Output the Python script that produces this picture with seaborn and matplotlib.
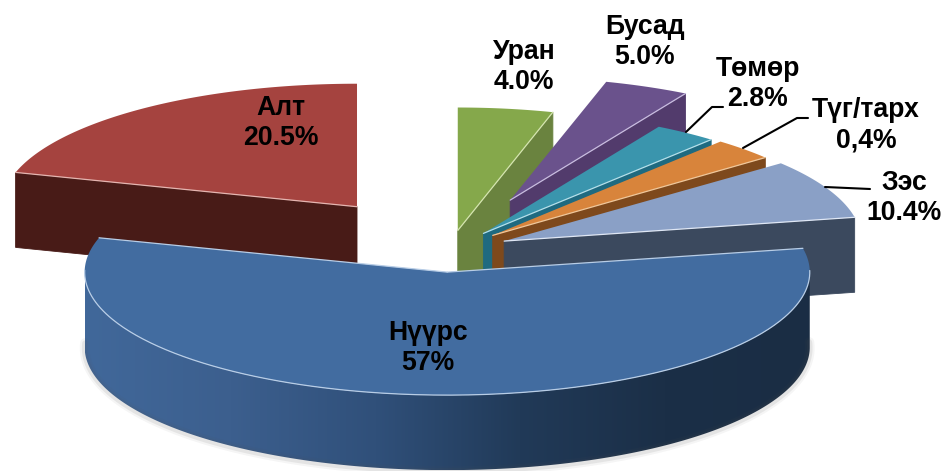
import numpy as np
import matplotlib
matplotlib.use('Agg')
import matplotlib.pyplot as plt
from matplotlib.patches import Polygon
import seaborn as sns

# slices clockwise from 12 o'clock, shares as drawn in the picture
nombers = ['Уран', 'Бусад', 'Төмөр', 'Түг/тарх', 'Зэс', 'Нүүрс', 'Алт']
percent_text = ['4.0%', '5.0%', '2.8%', '0,4%', '10.4%', '57%', '20.5%']
shares = [4.4, 3.9, 2.9, 2.9, 7.8, 57.6, 20.5]
explode = [0.16, 0.44, 0.165, 0.17, 0.17, 0.18, 0.44]
reach = [0.99, 1.0, 1.0, 1.0, 1.015, 1.03, 1.01]

top_colors = ['#85a84b', '#6a528c', '#3a95ad', '#d8843b', '#8aa0c6', '#426ca0', '#a5433f']
wall_colors = ['#6a833f', '#523b6c', '#1f6a80', '#7e491c', '#3b495e', '#2c4a70', '#481b17']
edge_colors = ['#d5e5b0', '#c9bde0', '#b5e0ea', '#f0c79a', '#dfe7f5', '#b8cde6', '#e5b5b0']

label_xy = [(524, 67), (645, 42), (758, 84), (866, 125), (904, 198), (428, 348), (281, 123)]
leaders = [[(686, 132), (712, 107), (723, 107)],
           [(743, 148), (797, 118), (808, 118)],
           [(825, 187), (870, 189)]]

CX, CY = 450, 250
RX, RY = 352, 123
HEIGHT = 75

sns.set_theme(style='white')
plt.rcParams['font.family'] = ['Liberation Sans', 'DejaVu Sans']

fig, ax = plt.subplots(figsize=(9.43, 4.71), dpi=100)
fig.subplots_adjust(0, 0, 1, 1)

shade = sns.blend_palette(['#41689a', '#3c5f8e', '#30507a', '#213a58', '#1b2f47', '#1a2d44'], as_cmap=True)


def ring(ox, oy, angles, scale=1.0, drop=0.0):
    rad = np.radians(angles)
    return ox + scale * RX * np.cos(rad), oy - RY * np.sin(rad) + drop


def faces_viewer(edge, is_start):
    return np.cos(np.radians(edge)) > 0 if is_start else np.cos(np.radians(edge)) < 0


# angles go counter-clockwise on screen, so walk down from 90 degrees
order = np.cumsum(shares) / np.sum(shares) * 360
ends = 90 - np.concatenate([[0], order[:-1]])
starts = 90 - order

# Алт is the furthest back, the rest stack from the top round to Нүүрс
for i in [6, 0, 1, 2, 3, 4, 5]:
    a1, a2 = starts[i], ends[i]
    mid = np.radians((a1 + a2) / 2)
    ox = CX + explode[i] * RX * np.cos(mid)
    oy = CY - explode[i] * RY * np.sin(mid)
    angles = np.linspace(a1, a2, 300)
    xs, ys = ring(ox, oy, angles, reach[i])

    # soft shadow under the outline
    xb, yb = ring(ox, oy, angles, reach[i], HEIGHT)
    front = np.sin(np.radians(angles)) < 0.05
    if front.sum() > 2:
        for lw, alpha in [(7, 0.06), (4, 0.10)]:
            ax.plot(xb[front], yb[front] + 1, color='#555555', lw=lw, alpha=alpha, solid_capstyle='round')

    # radial walls facing the viewer
    for edge, is_start in [(a1, True), (a2, False)]:
        if faces_viewer(edge, is_start):
            ex, ey = ring(ox, oy, edge, reach[i])
            ax.fill([ox, ex, ex, ox], [oy, ey, ey + HEIGHT, oy + HEIGHT],
                    color=wall_colors[i], lw=0.6)

    # outer curved wall
    below = np.sin(np.radians(angles)) <= 0.0
    if below.sum() > 2:
        wx, wy = xs[below], ys[below]
        outline = np.c_[np.r_[wx, wx[::-1]], np.r_[wy, wy[::-1] + HEIGHT]]
        if i == 5:
            # Нүүрс darkens from left to right
            img = ax.imshow(np.linspace(0, 1, 256)[None, :], cmap=shade, aspect='auto',
                            extent=(wx.min(), wx.max(), wy.max() + HEIGHT, wy.min()), zorder=1.5)
            img.set_clip_path(Polygon(outline, closed=True, transform=ax.transData))
        else:
            ax.fill(outline[:, 0], outline[:, 1], color=wall_colors[i], lw=0.6)

    ax.fill(np.r_[ox, xs], np.r_[oy, ys], facecolor=top_colors[i], edgecolor='none', zorder=2 if i == 5 else 1)
    # light rim on the edges that meet a wall
    rim = np.sin(np.radians(angles)) < 0.02
    ax.plot(xs[rim], ys[rim], color=edge_colors[i], lw=0.9, zorder=2.1 if i == 5 else 1.1)
    for edge, is_start in [(a1, True), (a2, False)]:
        if faces_viewer(edge, is_start) or i == 5:
            ex, ey = ring(ox, oy, edge, reach[i])
            ax.plot([ox, ex], [oy, ey], color=edge_colors[i], lw=0.9, zorder=2.1 if i == 5 else 1.1)

for pts in leaders:
    ax.plot(*zip(*pts), color='black', lw=1.5, zorder=3)

for name, txt, (x, y) in zip(nombers, percent_text, label_xy):
    ax.text(x, y, name + '\n' + txt, ha='center', va='center', fontsize=19.2,
            fontweight='bold', color='black', linespacing=1.2, zorder=4)

ax.set_xlim(0, 943)
ax.set_ylim(471, 0)
ax.axis('off')
fig.savefig('out.png', dpi=100)
